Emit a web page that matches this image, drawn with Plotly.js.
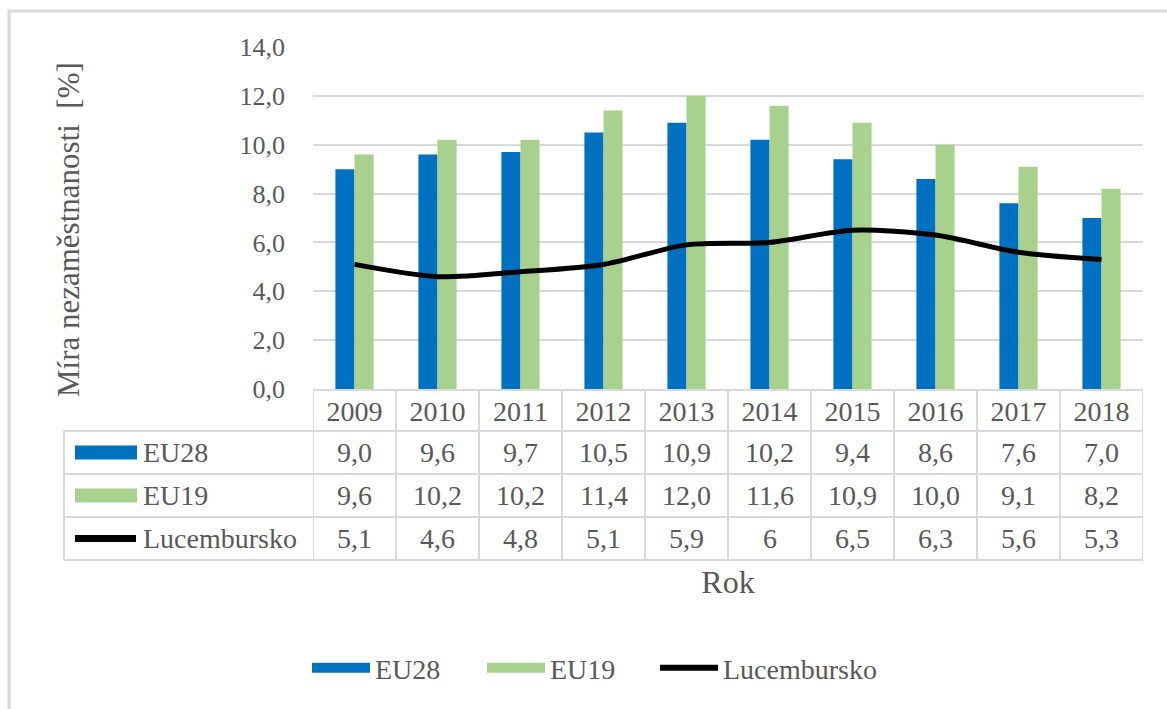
<!DOCTYPE html>
<html>
<head>
<meta charset="utf-8">
<script src="https://cdn.plot.ly/plotly-3.0.1.min.js"></script>
<style>
  html, body { margin: 0; padding: 0; background: #ffffff; }
  #chart { width: 1167px; height: 709px; }
</style>
</head>
<body>
<div id="chart"></div>
<script>
// ---- data ----
const years = ['2009', '2010', '2011', '2012', '2013', '2014', '2015', '2016', '2017', '2018'];
const eu28 = [9.0, 9.6, 9.7, 10.5, 10.9, 10.2, 9.4, 8.6, 7.6, 7.0];
const eu19 = [9.6, 10.2, 10.2, 11.4, 12.0, 11.6, 10.9, 10.0, 9.1, 8.2];
const lux = [5.1, 4.6, 4.8, 5.1, 5.9, 6, 6.5, 6.3, 5.6, 5.3];
const seriesNames = ['EU28', 'EU19', 'Lucembursko'];
const yTitle = 'Míra nezaměstnanosti  [%]';
const xTitle = 'Rok';

// ---- style / layout constants ----
const C_EU28 = '#0070c0', C_EU19 = '#a9d18e', C_LUX = '#000000';
const TXT = '#595959', GRID = '#d9d9d9';
const FONT = '"Liberation Serif", "Times New Roman", Times, serif';
const FS = 28;      // table / legend text
const FS_Y = 26;    // y tick labels
const L = 313, R = 1143, T = 47, B = 389; // plot area in px
const W = 1167, H = 709;
const pw = R - L, ph = B - T;
const px2x = p => (p - L) / pw;   // px -> paper x
const py2y = p => (B - p) / ph;   // px -> paper y

const rowTops = [431, 474, 517, 560];   // table row boundaries (px)
const headerTop = 390;
const tableLeft = 64;

const fmt1 = v => v.toFixed(1).replace('.', ',');
const fmtG = v => String(v).replace('.', ',');

const traces = [
  { type: 'bar', name: seriesNames[0], x: years, y: eu28, marker: { color: C_EU28 },
    showlegend: false, legendgroup: 'a', hoverinfo: 'x+y' },
  { type: 'bar', name: seriesNames[1], x: years, y: eu19, marker: { color: C_EU19 },
    showlegend: false, legendgroup: 'b', hoverinfo: 'x+y' },
  { type: 'scatter', mode: 'lines', name: seriesNames[2], x: years, y: lux,
    line: { color: C_LUX, width: 5, shape: 'spline', smoothing: 0.8 },
    showlegend: false, legendgroup: 'c' },
  // legend keys (wide rectangles as in the original)
  { type: 'scatter', mode: 'lines', name: seriesNames[0], x: [null], y: [null],
    line: { color: C_EU28, width: 15 }, legendgroup: 'a', legend: 'legend' },
  { type: 'scatter', mode: 'lines', name: seriesNames[1], x: [null], y: [null],
    line: { color: C_EU19, width: 15 }, legendgroup: 'b', legend: 'legend2' },
  { type: 'scatter', mode: 'lines', name: seriesNames[2], x: [null], y: [null],
    line: { color: C_LUX, width: 6 }, legendgroup: 'c', legend: 'legend3' }
];

const shapes = [];
const annotations = [];
const lineStyle = { color: GRID, width: 2 };

// outer chart border
shapes.push({ type: 'rect', xref: 'paper', yref: 'paper',
  x0: px2x(9), x1: px2x(W + 10), y0: py2y(11), y1: py2y(H + 10),
  line: { color: GRID, width: 3 }, fillcolor: 'rgba(0,0,0,0)', layer: 'below' });

// table: header top line (category columns only)
shapes.push({ type: 'line', xref: 'x', yref: 'paper', x0: -0.5, x1: years.length - 0.5,
  y0: py2y(headerTop), y1: py2y(headerTop), line: lineStyle });
// row lines spanning the full table
rowTops.forEach(p => shapes.push({ type: 'line', xref: 'paper', yref: 'paper',
  x0: px2x(tableLeft), x1: 1, y0: py2y(p), y1: py2y(p), line: lineStyle }));
// vertical lines at category boundaries
for (let i = 0; i <= years.length; i++) {
  shapes.push({ type: 'line', xref: 'x', yref: 'paper', x0: i - 0.5, x1: i - 0.5,
    y0: py2y(headerTop), y1: py2y(rowTops[3]), line: lineStyle });
}
// left border of series-name column
shapes.push({ type: 'line', xref: 'paper', yref: 'paper', x0: px2x(tableLeft), x1: px2x(tableLeft),
  y0: py2y(rowTops[0]), y1: py2y(rowTops[3]), line: lineStyle });

// legend keys in table
const rowCenters = [0, 1, 2].map(i => (rowTops[i] + rowTops[i + 1]) / 2);
shapes.push({ type: 'rect', xref: 'paper', yref: 'paper', x0: px2x(75), x1: px2x(137),
  y0: py2y(rowCenters[0] - 7), y1: py2y(rowCenters[0] + 7), fillcolor: C_EU28, line: { width: 0 } });
shapes.push({ type: 'rect', xref: 'paper', yref: 'paper', x0: px2x(75), x1: px2x(137),
  y0: py2y(rowCenters[1] - 7), y1: py2y(rowCenters[1] + 7), fillcolor: C_EU19, line: { width: 0 } });
shapes.push({ type: 'line', xref: 'paper', yref: 'paper', x0: px2x(75), x1: px2x(136),
  y0: py2y(rowCenters[2]), y1: py2y(rowCenters[2]), line: { color: C_LUX, width: 7 } });

// series names in table
seriesNames.forEach((n, r) => annotations.push({ xref: 'paper', yref: 'paper',
  x: px2x(141), y: py2y(rowCenters[r]), xanchor: 'left', yanchor: 'middle',
  text: n, showarrow: false, font: { family: FONT, size: FS, color: TXT } }));

// table values (placed on the category axis by index)
const rows = [eu28.map(fmt1), eu19.map(fmt1), lux.map(fmtG)];
rows.forEach((vals, r) => vals.forEach((t, i) => annotations.push({
  xref: 'x', yref: 'paper', x: i, y: py2y(rowCenters[r]),
  xanchor: 'center', yanchor: 'middle', text: t, showarrow: false,
  font: { family: FONT, size: FS, color: TXT } })));

const legendBase = {
  orientation: 'h', xanchor: 'left', y: py2y(668), yanchor: 'middle',
  font: { family: FONT, size: FS, color: TXT }, itemwidth: 58,
  bgcolor: 'rgba(0,0,0,0)'
};

const layout = {
  width: W, height: H,
  margin: { l: L, r: W - R, t: T, b: H - B, pad: 0 },
  paper_bgcolor: '#ffffff', plot_bgcolor: '#ffffff',
  separators: ', ',
  font: { family: FONT, size: FS, color: TXT },
  barmode: 'group', bargap: 0.54, bargroupgap: 0,
  xaxis: {
    type: 'category', range: [-0.5, years.length - 0.5],
    showgrid: false, zeroline: false, showline: false, ticks: '',
    ticklabelstandoff: 3, tickfont: { family: FONT, size: FS, color: TXT },
    title: { text: xTitle, standoff: 144, font: { family: FONT, size: 32, color: TXT } },
    automargin: false, fixedrange: true
  },
  yaxis: {
    range: [0, 14], dtick: 2, tick0: 0, tickformat: '.1f',
    showgrid: true, gridcolor: GRID, gridwidth: 2,
    zeroline: false, showline: false, ticks: '',
    ticklabelstandoff: 27, tickfont: { family: FONT, size: FS_Y, color: TXT },
    title: { text: yTitle + '&nbsp;&nbsp;&nbsp;', standoff: 150, font: { family: FONT, size: 31, color: TXT } },
    automargin: false, fixedrange: true
  },
  legend: Object.assign({}, legendBase, { x: px2x(307) }),
  legend2: Object.assign({}, legendBase, { x: px2x(482) }),
  legend3: Object.assign({}, legendBase, { x: px2x(655) }),
  shapes: shapes,
  annotations: annotations,
  showlegend: true
};

Plotly.newPlot('chart', traces, layout, { displayModeBar: false, staticPlot: true });
</script>
</body>
</html>
